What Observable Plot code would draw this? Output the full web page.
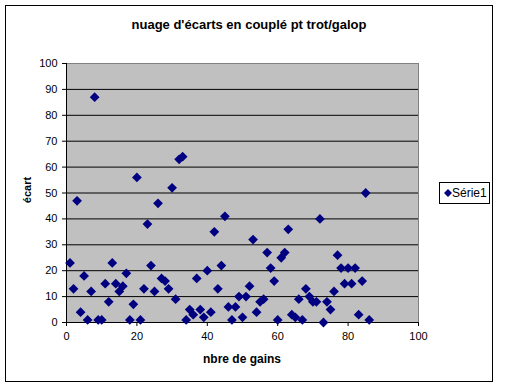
<!DOCTYPE html>
<html><head><meta charset="utf-8">
<script src="https://cdn.jsdelivr.net/npm/d3@7"></script>
<script src="https://cdn.jsdelivr.net/npm/@observablehq/plot@0.6"></script>
<style>
html,body{margin:0;padding:0;background:#fff;}
#wrap{position:relative;width:512px;height:387px;font-family:"Liberation Sans",Arial,sans-serif;}
#border{position:absolute;left:5px;top:5px;width:486px;height:375px;border:1px solid #000;box-sizing:content-box;}
#title{position:absolute;left:0;width:498px;top:17px;text-align:center;font-weight:bold;font-size:13px;}
#xtitle{position:absolute;left:0;width:484px;top:352px;text-align:center;font-weight:bold;font-size:12px;}
#ytitle{position:absolute;left:27px;top:190px;font-weight:bold;font-size:11px;transform:translate(-50%,-50%) rotate(-90deg);white-space:nowrap;}
#legend{position:absolute;left:439px;top:182px;width:49px;height:20px;border:1px solid #000;font-size:12px;}
#legend svg{position:absolute;left:4px;top:6px;}
#legend span{position:absolute;left:12px;top:3px;}
#chart{position:absolute;left:0;top:0;}
</style></head>
<body>
<div id="wrap">
  <div id="chart"></div>
  <div id="border"></div>
  <div id="title">nuage d'écarts en couplé pt trot/galop</div>
  <div id="xtitle">nbre de gains</div>
  <div id="ytitle">écart</div>
  <div id="legend"><svg width="8" height="8"><path d="M4,0L8,4L4,8L0,4Z" fill="#000080"/></svg><span>Série1</span></div>
</div>
<script>
const gains = [1,2,3,4,5,6,7,8,9,10,11,12,13,14,15,16,17,18,19,20,21,22,23,24,25,26,27,28,29,30,31,32,33,34,35,36,37,38,39,40,41,42,43,44,45,46,47,48,49,50,51,52,53,54,55,56,57,58,59,60,61,62,63,64,65,66,67,68,69,70,71,72,73,74,75,76,77,78,79,80,81,82,83,84,85,86];
const ecarts = [23,13,47,4,18,1,12,87,1,1,15,8,23,15,12,14,19,1,7,56,1,13,38,22,12,46,17,16,13,52,9,63,64,1,5,3,17,5,2,20,4,35,13,22,41,6,1,6,10,2,10,14,32,4,8,9,27,21,16,1,25,27,36,3,2,9,1,13,10,8,8,40,0,8,5,12,26,21,15,21,15,21,3,16,50,1];
const xTicks = [0,20,40,60,80,100];
const yTicks = [0,10,20,30,40,50,60,70,80,90,100];
const gridLines = [10,20,30,40,50,60,70,80,90];

const data = gains.map((g,i)=>({g, e: ecarts[i]}));

const chart = Plot.plot({
  width: 512, height: 387,
  marginLeft: 66, marginRight: 94, marginTop: 63, marginBottom: 65,
  style: {fontFamily: '"Liberation Sans", Arial, sans-serif', fontSize: "11px", background: "transparent", color: "#000"},
  x: {domain: [0,100]},
  y: {domain: [0,100]},
  marks: [
    Plot.frame({fill: "#c0c0c0", stroke: "#808080"}),
    Plot.ruleY(gridLines, {stroke: "#000", strokeWidth: 1}),
    Plot.axisX({ticks: xTicks, tickSize: 4, tickPadding: 6, label: null, stroke: "#000", fontSize: 11}),
    Plot.axisY({ticks: yTicks, tickSize: 4, tickPadding: 5, label: null, stroke: "#000", fontSize: 11}),
    Plot.ruleX([0], {stroke: "#000"}),
    Plot.ruleY([0], {stroke: "#000"}),
    Plot.dot(data, {x: "g", y: "e", symbol: "diamond2", r: 4.4, fill: "#000080", stroke: "none"})
  ]
});
document.getElementById("chart").appendChild(chart);
</script>
</body></html>
